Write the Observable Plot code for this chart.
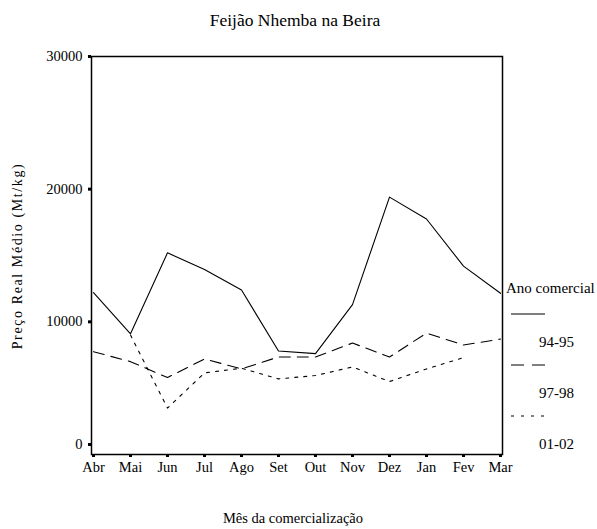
<!DOCTYPE html>
<html>
<head>
<meta charset="utf-8">
<script src="https://cdn.jsdelivr.net/npm/d3@7"></script>
<script src="https://cdn.jsdelivr.net/npm/@observablehq/plot@0.6"></script>
<style>
  html, body { margin: 0; padding: 0; background: #fff; }
  svg { display: block; }
  svg text { font-family: "Liberation Serif", "Times New Roman", serif !important; }
</style>
</head>
<body>
<div id="chart"></div>
<script>
const months = ["Abr","Mai","Jun","Jul","Ago","Set","Out","Nov","Dez","Jan","Fev","Mar"];
const series = ["94-95", "97-98", "01-02"];
const v9495 = [12200, 9100, 15200, 13950, 12400, 7800, 7600, 11300, 19400, 17750, 14200, 12150];
const v9798 = [7750, 7000, 5800, 7200, 6450, 7350, 7350, 8400, 7350, 9150, 8250, 8700];
const v0102 = [null, 9000, 3500, 6150, 6500, 5700, 5950, 6600, 5500, 6450, 7300, null];
const yTicks = [10000, 20000, 30000];

const dashes = {"94-95": null, "97-98": "11,7", "01-02": "3,6"};
const legendDashes = {"94-95": null, "97-98": "13,8", "01-02": "3,7"};
const values = {"94-95": v9495, "97-98": v9798, "01-02": v0102};

const rows = [];
for (const s of series) {
  values[s].forEach((v, i) => { if (v != null) rows.push({series: s, month: months[i], value: v}); });
}

const FONT = "'Liberation Serif', 'Times New Roman', serif";

const plot = Plot.plot({
  width: 597,
  height: 529,
  marginTop: 56,
  marginBottom: 75,
  marginLeft: 91,
  marginRight: 95,
  style: {fontFamily: FONT, fontSize: "14px", color: "#000", background: "#fff"},
  x: {type: "point", domain: months, padding: 0, label: null},
  y: {domain: [0, 30000], label: null},
  marks: [
    ...series.map(s => Plot.line(rows.filter(d => d.series === s), {
      x: "month", y: "value", stroke: "#000", strokeWidth: 1.1,
      strokeDasharray: dashes[s]
    })),
    Plot.frame({stroke: "#000", strokeWidth: 1.5}),
    Plot.axisX({tickSize: 3, strokeWidth: 3, tickPadding: 4, fontSize: 14.5, label: null}),
    Plot.axisY({ticks: yTicks, tickSize: 3, strokeWidth: 3, tickPadding: 6, fontSize: 14.5, label: null, tickFormat: d => String(d)}),
    Plot.axisY({ticks: [0], tickSize: 3, strokeWidth: 3, tickPadding: 6, fontSize: 14.5, label: null, tickFormat: d => String(d), dy: -10})
  ]
});

const svg = d3.select(plot);

function addText(sel, x, y, size, str, anchor) {
  return sel.append("text").attr("x", x).attr("y", y)
    .attr("text-anchor", anchor).attr("dominant-baseline", "middle")
    .style("font-family", FONT).style("font-size", size + "px").attr("fill", "#000")
    .text(str);
}

// Title
addText(svg, 295, 22, 17.5, "Feijão Nhemba na Beira", "middle");
// X label
addText(svg, 293, 520, 14.5, "Mês da comercialização", "middle");
// Y label
addText(svg, 0, 0, 14, "Preço Real Médio (Mt/kg)", "middle")
  .attr("transform", "translate(19,256) rotate(-90)").style("letter-spacing", "1.6px");

// Legend
const lg = svg.append("g");
addText(lg, 506, 290, 15, "Ano comercial", "start");
series.forEach((s, i) => {
  const y0 = 314 + i * 51;
  lg.append("line").attr("x1", 511).attr("x2", 545).attr("y1", y0).attr("y2", y0)
    .attr("stroke", "#000").attr("stroke-width", 1.2)
    .attr("stroke-dasharray", legendDashes[s]);
  addText(lg, 539, y0 + 30, 15, s, "start");
});

document.getElementById("chart").appendChild(plot);
</script>
</body>
</html>
